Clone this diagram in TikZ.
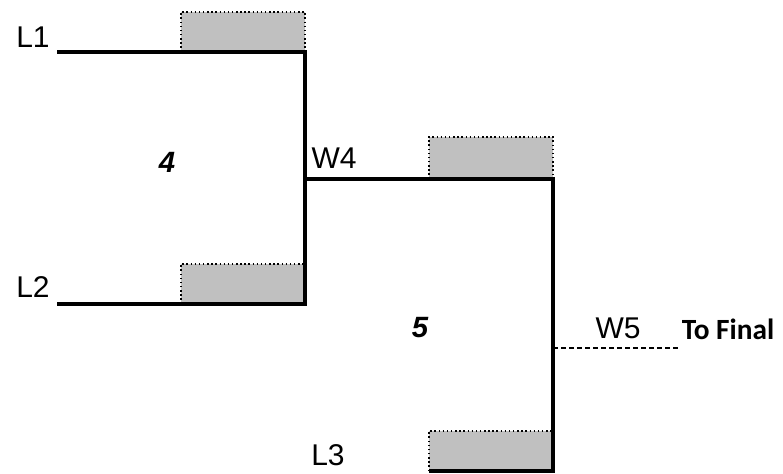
\documentclass[tikz,border=0pt]{standalone}
\usepackage{fontspec}
\setmainfont{Liberation Sans}
\newfontfamily\calibri{Carlito}
\usetikzlibrary{positioning}
\definecolor{seedgray}{HTML}{C0C0C0}
\tikzset{
    % Les traits du tableau (les "crochets")
    bracket/.style={
        draw=black,
        line width=3pt,
        line join=miter
    },
    % Les cases grises des têtes de série
    seedbox/.style={
        fill=seedgray
    },
    seededge/.style={
        draw=black,
        dotted,
        line width=1.1pt
    },
    % La sortie vers la finale
    feedline/.style={
        draw=black,
        dash pattern=on 3.75pt off 2.25pt,
        line width=1.4pt
    },
    lbl/.style={
        font=\fontsize{22.5}{27}\selectfont,
        inner sep=0pt
    }
}
\begin{document}
\begin{tikzpicture}[x=0.75pt,y=-0.75pt]
        \useasboundingbox (0,0) rectangle (783,474);

        % --- 1. Points du tableau ---
        \coordinate (l1) at (57,52);
        \coordinate (t4) at (305,52);
        \coordinate (l2) at (57,304);
        \coordinate (b4) at (305,304);
        \coordinate (w4) at (305,179);
        \coordinate (t5) at (553,179);
        \coordinate (b5) at (553,471);
        \coordinate (l3) at (429,471);
        \coordinate (w5) at (553,348);
        \coordinate (fin) at (678,348);

        % --- 2. Cases grises ---
        % Bord pointillé en haut et à gauche, le trait noir ferme le reste
        \fill[seedbox] (181,12) rectangle (305,52);
        \draw[seededge] (181,52) |- (305,12) -- (305,52);
        \fill[seedbox] (181,264) rectangle (305,304);
        \draw[seededge] (181,304) |- (305,264);
        \fill[seedbox] (429,137) rectangle (553,179);
        \draw[seededge] (429,179) |- (553,137) -- (553,179);
        \fill[seedbox] (429,431) rectangle (553,471);
        \draw[seededge] (429,471) |- (553,431);

        % --- 3. Crochets ---
        \draw[bracket] (l1) -- (t4) -- (b4) -- (l2);
        \draw[bracket] (w4) -- (t5) -- (b5) -- (l3);
        \draw[feedline] (w5) -- (fin);

        % --- 4. Textes ---
        \node[lbl] (L1) at (33,37) {L1};
        \node[lbl] (L2) at (33,287) {L2};
        \node[lbl] (L3) at (328,455) {L3};
        \node[lbl] (W4) at (334,158) {W4};
        \node[lbl] (W5) at (618,328) {W5};
        \node[lbl,font=\fontsize{22}{27}\selectfont\bfseries\itshape] (m4) at (167,162) {4};
        \node[lbl,font=\fontsize{22}{27}\selectfont\bfseries\itshape] (m5) at (420,328) {5};
        \node[lbl,font=\fontsize{22}{26}\selectfont\calibri\bfseries] (final) at (728,329) {To Final};
    \end{tikzpicture}
\end{document}
